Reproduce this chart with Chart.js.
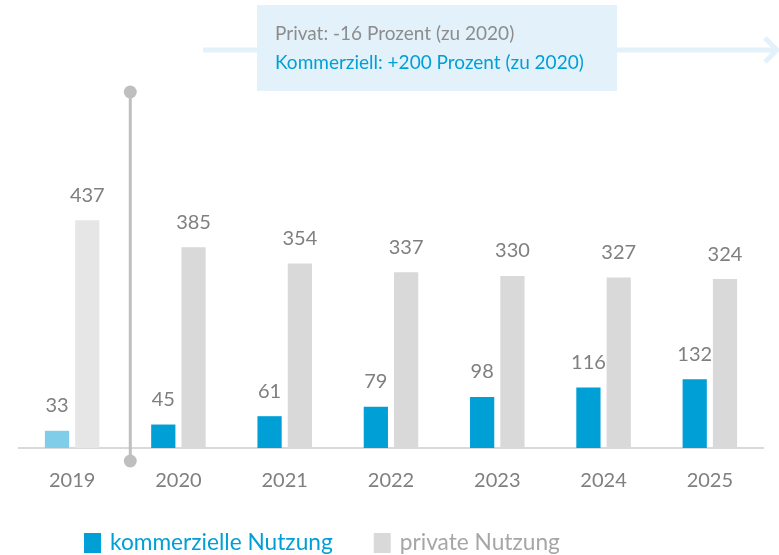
<!DOCTYPE html>
<html>
<head>
<meta charset="utf-8">
<script src="https://cdn.jsdelivr.net/npm/chart.js@4"></script>
<style>
  html, body { margin: 0; padding: 0; background: #fff; }
  #wrap { width: 779px; height: 555px; }
</style>
</head>
<body>
<div id="wrap"><canvas id="nutzungChart" width="779" height="555"></canvas></div>
<script>
// Daten
const years = ["2019", "2020", "2021", "2022", "2023", "2024", "2025"];
const kommerziell = [33, 45, 61, 79, 98, 116, 132];
const privat = [437, 385, 354, 337, 330, 327, 324];
const infoLines = ["Privat: -16 Prozent (zu 2020)", "Kommerziell: +200 Prozent (zu 2020)"];

const BLUE = "#009fd6";
const BLUE_LIGHT = "#7fcde9";
const GREY = "#d9d9d9";
const GREY_LIGHT = "#e6e6e6";
const TEXT = "#7f7f7f";
const FONT = "Lato, 'Open Sans', sans-serif";

// Werte über den Balken
const valueLabels = {
    id: "valueLabels",
    afterDatasetsDraw(chart) {
        const ctx = chart.ctx;
        ctx.save();
        ctx.font = "20px " + FONT;
        ctx.fillStyle = TEXT;
        ctx.textAlign = "center";
        ctx.textBaseline = "middle";
        chart.data.datasets.forEach((ds, i) => {
            chart.getDatasetMeta(i).data.forEach((bar, j) => {
                ctx.fillText(ds.data[j], bar.x, bar.y - 25);
            });
        });
        ctx.restore();
    }
};

// Legende unten (eigene Zeichnung, links ausgerichtet)
const bottomLegend = {
    id: "bottomLegend",
    afterDraw(chart) {
        const ctx = chart.ctx;
        const txtCols = [BLUE, "#a6a6a6"];
        const boxCols = [BLUE, GREY];
        let x = 84;
        const y = 543;
        ctx.save();
        ctx.font = "22.7px " + FONT;
        ctx.textBaseline = "middle";
        ctx.textAlign = "left";
        chart.data.datasets.forEach((ds, i) => {
            ctx.fillStyle = boxCols[i];
            ctx.fillRect(x, y - 10, 17, 20);
            x += 17 + 9;
            ctx.fillStyle = txtCols[i];
            ctx.fillText(ds.label, x, y);
            x += ctx.measureText(ds.label).width + 41;
        });
        ctx.restore();
    }
};

// Trennlinie 2019/2020, Pfeil und Infobox
const extras = {
    id: "extras",
    beforeDatasetsDraw(chart) {
        const ctx = chart.ctx;
        const x = chart.scales.x;
        const area = chart.chartArea;
        ctx.save();

        // Pfeil
        const ay = 50;
        ctx.strokeStyle = "#e3f2fa";
        ctx.lineWidth = 5;
        ctx.beginPath();
        ctx.moveTo(203, ay);
        ctx.lineTo(chart.width - 4, ay);
        ctx.stroke();
        ctx.beginPath();
        ctx.moveTo(chart.width - 14, ay - 12);
        ctx.lineTo(chart.width - 2, ay);
        ctx.lineTo(chart.width - 14, ay + 12);
        ctx.stroke();

        // Box
        ctx.fillStyle = "#e3f2fa";
        ctx.fillRect(257, 5, 360, 86);
        ctx.font = "19px " + FONT;
        ctx.textBaseline = "middle";
        ctx.textAlign = "left";
        ctx.fillStyle = "#8c8c8c";
        ctx.fillText(infoLines[0], 275, 34);
        ctx.fillStyle = BLUE;
        ctx.fillText(infoLines[1], 275, 63);

        // vertikale Linie
        const lx = (x.getPixelForValue(0) + x.getPixelForValue(1)) / 2 + 5;
        ctx.strokeStyle = "#bfbfbf";
        ctx.fillStyle = "#bfbfbf";
        ctx.lineWidth = 3;
        ctx.beginPath();
        ctx.moveTo(lx, 92);
        ctx.lineTo(lx, area.bottom + 13);
        ctx.stroke();
        [92, area.bottom + 13].forEach(cy => {
            ctx.beginPath();
            ctx.arc(lx, cy, 6.5, 0, Math.PI * 2);
            ctx.fill();
        });
        ctx.restore();
    }
};

new Chart(document.getElementById("nutzungChart").getContext("2d"), {
    type: "bar",
    data: {
        labels: years,
        datasets: [{
            label: "kommerzielle Nutzung",
            data: kommerziell,
            backgroundColor: kommerziell.map((v, i) => i === 0 ? BLUE_LIGHT : BLUE),
            categoryPercentage: 0.57,
            barPercentage: 0.8
        }, {
            label: "private Nutzung",
            data: privat,
            backgroundColor: privat.map((v, i) => i === 0 ? GREY_LIGHT : GREY),
            categoryPercentage: 0.57,
            barPercentage: 0.8
        }]
    },
    options: {
        responsive: false,
        animation: false,
        layout: { padding: { top: 83, left: 19, right: 16, bottom: 49 } },
        scales: {
            x: {
                grid: { display: false },
                border: { color: GREY, width: 2 },
                ticks: { color: TEXT, font: { family: FONT, size: 20 }, padding: 13 }
            },
            y: {
                display: false,
                min: 0,
                max: 700
            }
        },
        plugins: {
            tooltip: { enabled: false },
            legend: { display: false }
        }
    },
    plugins: [extras, valueLabels, bottomLegend]
});
</script>
</body>
</html>
